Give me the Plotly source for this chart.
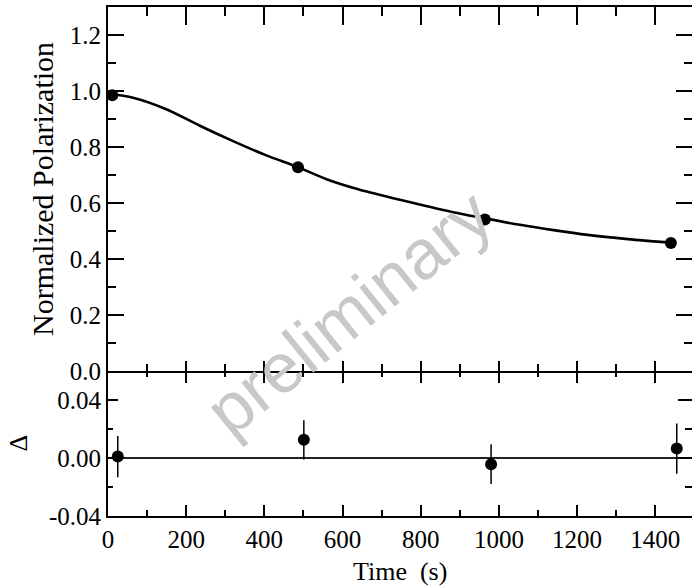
import plotly.graph_objects as go

# ---- data ----
time_pts = [11, 486, 964, 1440]
pol_pts = [0.985, 0.728, 0.541, 0.457]

fit_time = [0, 64, 149, 235, 320, 405, 486, 559, 640, 727, 800, 880, 964, 1054, 1140, 1227, 1330, 1443]
fit_pol = [0.990, 0.976, 0.935, 0.876, 0.821, 0.770, 0.728, 0.685, 0.649, 0.618, 0.594, 0.568, 0.545, 0.522, 0.503, 0.486, 0.471, 0.458]

res_time = [25, 501, 980, 1455]
res_delta = [0.001, 0.0125, -0.0043, 0.0065]
res_err = [0.0142, 0.0135, 0.0137, 0.0173]

x_ticks = [0, 200, 400, 600, 800, 1000, 1200, 1400]
top_yticks = [0.0, 0.2, 0.4, 0.6, 0.8, 1.0, 1.2]
bot_yticks = [-0.04, 0.0, 0.04]
bot_yticktext = ["-0.04", "0.00", "0.04"]

XR = [0, 1494]
TOP_R = [0, 1.3]
BOT_R = [-0.04, 0.06]
SPLIT = 0.2849

serif = "Liberation Serif"
tickfont = dict(family=serif, size=25, color="black")

fig = go.Figure()

fig.add_trace(go.Scatter(x=fit_time, y=fit_pol, mode="lines", line=dict(color="black", width=2.6, shape="spline", smoothing=0.8),
                         xaxis="x", yaxis="y", showlegend=False, hoverinfo="skip"))
fig.add_trace(go.Scatter(x=time_pts, y=pol_pts, mode="markers", marker=dict(color="black", size=12),
                         xaxis="x", yaxis="y", showlegend=False))
fig.add_trace(go.Scatter(x=res_time, y=res_delta, mode="markers", marker=dict(color="black", size=12),
                         error_y=dict(type="data", array=res_err, visible=True, color="black", thickness=1.5, width=0),
                         xaxis="x2", yaxis="y2", showlegend=False))
# dummy traces so overlay axes are drawn
for xa, ya in [("x3", "y"), ("x4", "y2"), ("x", "y3"), ("x2", "y4")]:
    fig.add_trace(go.Scatter(x=[None], y=[None], xaxis=xa, yaxis=ya, showlegend=False, hoverinfo="skip"))

common_x = dict(range=XR, showgrid=False, zeroline=False, showline=True, linecolor="black", linewidth=2,
                ticks="inside", tickcolor="black", tickwidth=1.6, tickmode="array", tickvals=x_ticks,
                ticktext=[str(v) for v in x_ticks], tickfont=tickfont, automargin=False)

minor_x = lambda L: dict(dtick=100, tick0=0, ticklen=L, ticks="inside", tickcolor="black", tickwidth=1.6)

fig.update_layout(
    width=692, height=587,
    margin=dict(l=108, r=0, t=7, b=71, autoexpand=False),
    paper_bgcolor="white", plot_bgcolor="white",
    showlegend=False,
    xaxis=dict(common_x, anchor="y", domain=[0, 1], ticklen=10, showticklabels=False, minor=minor_x(7)),
    xaxis2=dict(common_x, anchor="y2", domain=[0, 1], ticklen=11, showticklabels=True, minor=minor_x(6)),
    xaxis3=dict(common_x, overlaying="x", anchor="y", side="top", ticklen=18, showticklabels=False, minor=minor_x(9)),
    xaxis4=dict(common_x, overlaying="x2", anchor="y2", side="top", ticklen=12, showticklabels=False,
                showline=False, minor=minor_x(6)),
    yaxis=dict(range=TOP_R, domain=[SPLIT, 1], anchor="x", showgrid=False, zeroline=False, showline=True,
               linecolor="black", linewidth=2, ticks="inside", ticklen=16, tickwidth=1.6, tickcolor="black",
               tickmode="array", tickvals=top_yticks, ticktext=[f"{v:.1f}" for v in top_yticks], tickfont=tickfont,
               automargin=False,
               minor=dict(dtick=0.1, tick0=0, ticklen=8, ticks="inside", tickcolor="black", tickwidth=1.6)),
    yaxis3=dict(range=TOP_R, overlaying="y", anchor="x", side="right", showgrid=False, zeroline=False, showline=False,
                ticks="inside", ticklen=16, tickwidth=1.6, tickcolor="black", tickmode="array", tickvals=top_yticks,
                showticklabels=False, automargin=False,
                minor=dict(dtick=0.1, tick0=0, ticklen=8, ticks="inside", tickcolor="black", tickwidth=1.6)),
    yaxis2=dict(range=BOT_R, domain=[0, SPLIT], anchor="x2", showgrid=False, zeroline=True, zerolinecolor="#222222",
                zerolinewidth=1.5, showline=True, linecolor="black", linewidth=2, ticks="inside", ticklen=10,
                tickwidth=1.6, tickcolor="black", tickmode="array", tickvals=bot_yticks, ticktext=bot_yticktext,
                tickfont=tickfont, automargin=False,
                minor=dict(tickmode="array", tickvals=[-0.02, 0.02], ticklen=5, ticks="inside", tickcolor="black", tickwidth=1.6)),
    yaxis4=dict(range=BOT_R, overlaying="y2", anchor="x2", side="right", showgrid=False, zeroline=False, showline=False,
                ticks="inside", ticklen=14, tickwidth=1.6, tickcolor="black", tickmode="array", tickvals=bot_yticks,
                showticklabels=False, automargin=False,
                minor=dict(tickmode="array", tickvals=[-0.02, 0.02], ticklen=7, ticks="inside", tickcolor="black", tickwidth=1.6)),
)

annotations = [
    dict(text="Normalized Polarization", xref="paper", yref="paper", x=0, y=(SPLIT + 1) / 2, xshift=-65,
         textangle=-90, showarrow=False, font=dict(family=serif, size=30, color="black"),
         xanchor="center", yanchor="middle"),
    dict(text="Δ", xref="paper", yref="paper", x=0, y=SPLIT / 2, xshift=-90,
         textangle=-90, showarrow=False, font=dict(family=serif, size=26, color="black"),
         xanchor="center", yanchor="middle"),
    dict(text="Time  (s)", xref="paper", yref="paper", x=0.5, y=0, yshift=-55,
         showarrow=False, font=dict(family=serif, size=26, color="black"),
         xanchor="center", yanchor="middle"),
    dict(text="preliminary", xref="paper", yref="paper", x=0.412, y=0.398, textangle=-39,
         showarrow=False, font=dict(family="Liberation Sans", size=70, color="#c8c8c8"),
         xanchor="center", yanchor="middle"),
]
fig.update_layout(annotations=annotations)

# remove the browser's default 8px body margin so the figure sits at the page origin
fig.write_html("out.html", config={"displayModeBar": False},
               post_script="document.body.style.margin='0px';")
